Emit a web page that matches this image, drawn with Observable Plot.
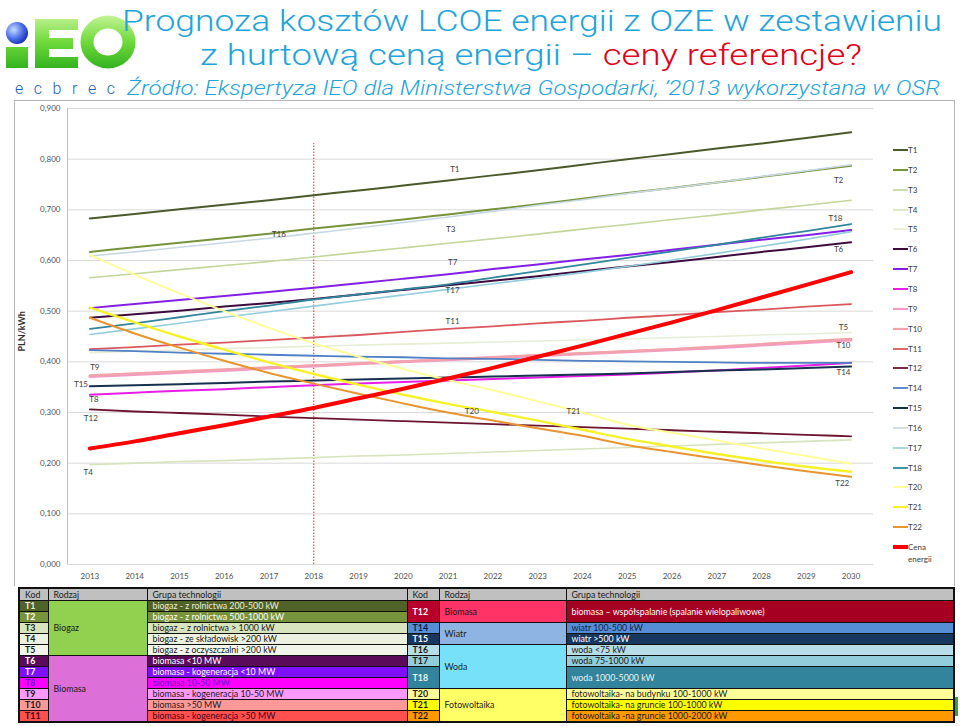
<!DOCTYPE html>
<html>
<head>
<meta charset="utf-8">
<script src="https://cdn.jsdelivr.net/npm/d3@7"></script>
<script src="https://cdn.jsdelivr.net/npm/@observablehq/plot@0.6"></script>
<style>
  html, body { margin: 0; padding: 0; background: #fff; }
  #page { position: relative; width: 960px; height: 726px; overflow: hidden; background: #fff; font-family: Lato, "Open Sans", sans-serif; }
  #header { position: absolute; left: 0; top: 0; }
  #chartbox { position: absolute; left: 14px; top: 100px; width: 941px; height: 486px; box-sizing: border-box; border: 1.5px solid #b4b4b4; border-bottom: none; }
  #plot { position: absolute; left: 14px; top: 100px; }
  #legend { position: absolute; left: 893px; top: 140px; font-size: 8px; color: #404040; }
  .li { position: absolute; left: 0; height: 12px; white-space: nowrap; }
  .li svg { position: absolute; left: 0; top: 0; }
  .li span { position: absolute; left: 15px; top: 0; line-height: 12px; }
  #tbl { position: absolute; left: 18px; top: 587px; border-collapse: collapse; table-layout: fixed; width: 935px; font-size: 8.8px; border: 2px solid #111; }
  #tbl td { border: 1px solid #111; padding: 0 0 0 5px; height: 10px; line-height: 10px; overflow: hidden; white-space: nowrap; color: #1a1a1a; }
  #tbl tr.hd td { background: #c0c0c0; height: 11px; }
  #tbl td.k { font-weight: bold; }
  #green { position: absolute; left: 955px; top: 697px; width: 3px; height: 19px; background: #3aa03a; }
  .ttl { font-family: Roboto, Lato, sans-serif; font-weight: 300; }
</style>
</head>
<body>
<div id="page">
  <svg id="header" width="960" height="100">
    <defs>
      <linearGradient id="gr" x1="0" y1="0" x2="0" y2="1" gradientUnits="userSpaceOnUse" gradientTransform="scale(1,70)">
        <stop offset="0.2" stop-color="#c8f59a"/>
        <stop offset="0.6" stop-color="#6fd93a"/>
        <stop offset="1" stop-color="#2fb01e"/>
      </linearGradient>
      <radialGradient id="bl" cx="0.35" cy="0.35" r="0.7">
        <stop offset="0" stop-color="#c8dcff"/>
        <stop offset="0.6" stop-color="#4a6de8"/>
        <stop offset="1" stop-color="#1a2fb0"/>
      </radialGradient>
    </defs>
    <circle cx="17" cy="33" r="11" fill="url(#bl)"/>
    <g fill="url(#gr)">
      <rect x="6" y="47" width="22" height="21"/>
      <rect x="35" y="19" width="14" height="49"/>
      <rect x="35" y="19" width="43" height="11"/>
      <rect x="35" y="38" width="38" height="11"/>
      <rect x="35" y="57" width="43" height="11"/>
    </g>
    <ellipse cx="108" cy="42" rx="21" ry="20" fill="none" stroke="url(#gr)" stroke-width="13"/>
    <text class="ttl" x="122" y="31" font-size="29" fill="#22a4da" textLength="820" lengthAdjust="spacingAndGlyphs">Prognoza kosztów LCOE  energii z OZE w zestawieniu</text>
    <text class="ttl" x="200" y="65" font-size="29" textLength="662" lengthAdjust="spacingAndGlyphs"><tspan fill="#22a4da">z hurtową ceną energii – </tspan><tspan fill="#e2001a">ceny referencje?</tspan></text>
    <text class="ttl" x="15" y="94" font-size="16" fill="#1d62b5" textLength="100" lengthAdjust="spacing">e c  b r e c</text>
    <text class="ttl" x="127" y="95" font-style="italic" font-size="20" fill="#22a4da" textLength="813" lengthAdjust="spacingAndGlyphs">Źródło: Ekspertyza IEO dla Ministerstwa Gospodarki, ‘2013 wykorzystana w OSR</text>
  </svg>
  <div id="chartbox"></div>
  <div id="plot"></div>
  <div id="legend"></div>
  <table id="tbl"></table>
  <div id="green"></div>
</div>
<script>
// ---------- DATA ----------
const years = [2013, 2014, 2015, 2016, 2017, 2018, 2019, 2020, 2021, 2022, 2023, 2024, 2025, 2026, 2027, 2028, 2029, 2030];
const yTicks = [0, 0.1, 0.2, 0.3, 0.4, 0.5, 0.6, 0.7, 0.8, 0.9];

const T1  = [0.683, 0.692, 0.701, 0.710, 0.719, 0.729, 0.738, 0.748, 0.758, 0.768, 0.778, 0.789, 0.800, 0.810, 0.821, 0.831, 0.842, 0.853];
const T2  = [0.617, 0.626, 0.635, 0.644, 0.653, 0.663, 0.672, 0.681, 0.691, 0.701, 0.711, 0.722, 0.733, 0.743, 0.754, 0.765, 0.776, 0.787];
const T3  = [0.566, 0.574, 0.582, 0.590, 0.598, 0.607, 0.616, 0.625, 0.634, 0.643, 0.652, 0.662, 0.671, 0.681, 0.690, 0.700, 0.709, 0.719];
const T4  = [0.197, 0.200, 0.203, 0.205, 0.208, 0.211, 0.214, 0.216, 0.219, 0.222, 0.225, 0.228, 0.231, 0.234, 0.237, 0.240, 0.243, 0.246];
const T5  = [0.418, 0.421, 0.423, 0.426, 0.428, 0.431, 0.433, 0.435, 0.437, 0.439, 0.441, 0.443, 0.445, 0.448, 0.450, 0.453, 0.455, 0.458];
const T6  = [0.487, 0.494, 0.501, 0.509, 0.516, 0.524, 0.533, 0.542, 0.551, 0.560, 0.569, 0.579, 0.588, 0.597, 0.607, 0.617, 0.626, 0.636];
const T7  = [0.506, 0.514, 0.522, 0.530, 0.538, 0.546, 0.555, 0.564, 0.573, 0.583, 0.592, 0.602, 0.611, 0.621, 0.631, 0.641, 0.650, 0.660];
const T8  = [0.335, 0.339, 0.343, 0.346, 0.350, 0.354, 0.357, 0.360, 0.363, 0.366, 0.369, 0.372, 0.375, 0.379, 0.383, 0.388, 0.393, 0.398];
const T9  = [0.371, 0.375, 0.379, 0.383, 0.388, 0.392, 0.396, 0.400, 0.404, 0.408, 0.412, 0.416, 0.420, 0.424, 0.428, 0.433, 0.438, 0.443];
const T10 = [0.373, 0.377, 0.381, 0.385, 0.389, 0.393, 0.397, 0.401, 0.405, 0.409, 0.413, 0.417, 0.421, 0.425, 0.430, 0.435, 0.440, 0.445];
const T11 = [0.425, 0.429, 0.434, 0.438, 0.443, 0.448, 0.453, 0.459, 0.465, 0.470, 0.476, 0.481, 0.487, 0.492, 0.498, 0.503, 0.509, 0.514];
const T12 = [0.306, 0.302, 0.299, 0.296, 0.292, 0.289, 0.286, 0.283, 0.280, 0.277, 0.274, 0.271, 0.268, 0.265, 0.262, 0.259, 0.256, 0.253];
const T14 = [0.423, 0.421, 0.418, 0.416, 0.414, 0.412, 0.410, 0.409, 0.407, 0.406, 0.404, 0.402, 0.401, 0.400, 0.399, 0.398, 0.398, 0.398];
const T15 = [0.352, 0.354, 0.356, 0.358, 0.361, 0.363, 0.365, 0.367, 0.369, 0.371, 0.373, 0.375, 0.377, 0.380, 0.383, 0.385, 0.388, 0.391];
const T16 = [0.609, 0.617, 0.626, 0.635, 0.644, 0.654, 0.664, 0.675, 0.686, 0.697, 0.709, 0.720, 0.732, 0.743, 0.754, 0.766, 0.777, 0.789];
const T17 = [0.454, 0.465, 0.476, 0.488, 0.499, 0.510, 0.521, 0.532, 0.543, 0.554, 0.565, 0.576, 0.588, 0.601, 0.614, 0.628, 0.642, 0.657];
const T18 = [0.465, 0.476, 0.488, 0.500, 0.511, 0.523, 0.533, 0.543, 0.553, 0.566, 0.579, 0.592, 0.605, 0.618, 0.631, 0.645, 0.658, 0.672];
const T20 = [0.611, 0.572, 0.535, 0.500, 0.467, 0.437, 0.410, 0.386, 0.364, 0.344, 0.322, 0.300, 0.276, 0.260, 0.245, 0.229, 0.214, 0.199];
const T21 = [0.507, 0.478, 0.450, 0.424, 0.399, 0.376, 0.355, 0.335, 0.317, 0.301, 0.284, 0.266, 0.248, 0.233, 0.218, 0.205, 0.193, 0.183];
const T22 = [0.487, 0.456, 0.428, 0.402, 0.378, 0.357, 0.337, 0.318, 0.300, 0.284, 0.269, 0.254, 0.236, 0.222, 0.209, 0.196, 0.184, 0.173];
const CENA = [0.229, 0.243, 0.259, 0.275, 0.292, 0.309, 0.328, 0.347, 0.367, 0.388, 0.410, 0.432, 0.455, 0.478, 0.502, 0.527, 0.552, 0.577];

const seriesNames = ["T1","T2","T3","T4","T5","T6","T7","T8","T9","T10","T11","T12","T14","T15","T16","T17","T18","T20","T21","T22","Cena energii"];
const seriesValues = [T1,T2,T3,T4,T5,T6,T7,T8,T9,T10,T11,T12,T14,T15,T16,T17,T18,T20,T21,T22,CENA];

// in-chart series labels (anchored in data coordinates)
const labelNames  = ["T1","T16","T3","T7","T17","T11","T2","T18","T6","T5","T10","T14","T9","T15","T8","T12","T4","T20","T21","T22"];
const labelYears  = [2021.15, 2017.22, 2021.06, 2021.1, 2021.1, 2021.1, 2029.72, 2029.65, 2029.72, 2029.83, 2029.83, 2029.83, 2013.11, 2012.8, 2013.09, 2013.02, 2012.96, 2021.53, 2023.8, 2029.8];
const labelValues = [0.779, 0.651, 0.661, 0.596, 0.540, 0.479, 0.759, 0.684, 0.621, 0.467, 0.432, 0.379, 0.389, 0.355, 0.325, 0.288, 0.181, 0.302, 0.302, 0.160];

// table content
const tblLeftCodes  = ["T1","T2","T3","T4","T5","T6","T7","T8","T9","T10","T11"];
const tblLeftGroups = ["biogaz - z rolnictwa 200-500 kW","biogaz - z rolnictwa 500-1000 kW","biogaz – z rolnictwa > 1000 kW","biogaz - ze składowisk >200 kW","biogaz - z oczyszczalni >200 kW","biomasa <10 MW","biomasa - kogeneracja <10 MW","biomasa 10-50 MW","biomasa - kogeneracja 10-50 MW","biomasa >50 MW","biomasa - kogeneracja  >50 MW"];
const tblLeftKinds  = ["Biogaz","Biomasa"];
const tblRightCodes  = ["T12","T14","T15","T16","T17","T18","T20","T21","T22"];
const tblRightGroups = ["biomasa – współspalanie (spalanie wielopaliwowe)","wiatr 100-500 kW","wiatr >500 kW","woda <75 kW","woda 75-1000 kW","woda 1000-5000 kW","fotowoltaika- na budynku 100-1000 kW","fotowoltaika- na gruncie 100-1000 kW","fotowoltaika -na gruncie 1000-2000 kW"];
const tblRightKinds  = ["Biomasa","Wiatr","Woda","Fotowoltaika"];
const tblHeader = ["Kod","Rodzaj","Grupa technologii"];

// ---------- STYLES ----------
const lineColors = ["#4b5a2a","#77933c","#c3d69b","#d7e4bd","#e6eed6","#3d0c3d","#8420e6","#e61ee6","#f29ac8","#f2a2aa","#d9585e","#6b1530","#4f81c4","#17304f","#c9d9e3","#93cddd","#31859c","#ffff99","#f6f22a","#e8952f","#ff0000"];
const lineWidths = [2, 2, 1.6, 1.6, 1.6, 2, 2, 2, 3, 2.4, 1.8, 1.8, 1.8, 2, 1.6, 1.6, 1.8, 2, 2.4, 2, 4];

// ---------- CHART ----------
const fmt = d => d3.format(".3f")(d).replace(".", ",");
const marks = [
  Plot.ruleY(yTicks, {stroke: "#d9d9d9", strokeWidth: 1}),
  Plot.ruleX([2012.5], {y1: 0, y2: 0.9, stroke: "#bfbfbf"}),
  Plot.text(yTicks, {x: 2012.5, y: d => d, text: fmt, textAnchor: "end", dx: -7, fill: "#505050", fontSize: 8}),
  Plot.text(years, {x: d => d, y: 0, text: d => String(d), dy: 12, fill: "#505050", fontSize: 8}),
  Plot.text(["PLN/kWh"], {frameAnchor: "left", dx: -45, dy: 15, rotate: -90, fontWeight: "bold", fontSize: 9, fill: "#303030"}),
  Plot.ruleX([2018], {y1: 0, y2: 0.831, stroke: "#ff2020", strokeWidth: 1, strokeDasharray: "1.5,1.5"})
];
seriesNames.forEach((name, i) => {
  const rows = years.map((yr, j) => ({year: yr, value: seriesValues[i][j]}));
  marks.push(Plot.line(rows, {x: "year", y: "value", stroke: lineColors[i], strokeWidth: lineWidths[i], curve: "monotone-x"}));
});
const labelRows = labelNames.map((n, i) => ({name: n, year: labelYears[i], value: labelValues[i]}));
marks.push(Plot.text(labelRows, {x: "year", y: "value", text: "name", fill: "#404040", fontSize: 8}));

const chart = Plot.plot({
  width: 941, height: 486,
  marginLeft: 53, marginRight: 82, marginTop: 8, marginBottom: 22,
  x: {domain: [2012.5, 2030.5], axis: null},
  y: {domain: [0, 0.9], axis: null},
  style: {background: "transparent", fontFamily: "Lato, 'Open Sans', sans-serif", fontSize: "8px", overflow: "visible"},
  marks
});
document.getElementById("plot").appendChild(chart);

// ---------- LEGEND ----------
const legend = document.getElementById("legend");
seriesNames.forEach((name, i) => {
  const d = document.createElement("div");
  d.className = "li";
  d.style.top = (i * 19.85 + 4) + "px";
  const w = i === seriesNames.length - 1 ? 4 : Math.min(lineWidths[i], 2.2);
  d.innerHTML = `<svg width="15" height="12"><line x1="0" x2="15" y1="6" y2="6" stroke="${lineColors[i]}" stroke-width="${w}"/></svg><span>${name === "Cena energii" ? "Cena<br>energii" : name}</span>`;
  legend.appendChild(d);
});

// ---------- TABLE ----------
const leftCodeBg   = ["#4f6228","#77933c","#d7e4bd","#ebf1de","#f2f6ea","#5a0c5a","#7f10ff","#ff00ff","#ff99ff","#ff9999","#ff5050"];
const leftCodeFg   = ["#eeeed8","#ffffff","#1a1a1a","#1a1a1a","#1a1a1a","#ffffff","#ffffff","#6a10c0","#1a1a1a","#1a1a1a","#4a0010"];
const kindLeftBg   = ["#92d050","#dc6fd8"];
const rightCodeBg  = ["#b8002c","#558ed5","#17375e","#b7dee8","#92cddc","#31849b","#ffff99","#ffff00","#ff9900"];
const rightCodeFg  = ["#ffffff","#10204a","#ffffff","#1a1a1a","#1a1a1a","#e8f4f4","#1a1a1a","#1a1a1a","#1a1a1a"];
const rightGroupBg = ["#a50021","#558ed5","#17375e","#b7dee8","#92cddc","#31849b","#ffff99","#ffff00","#ff9900"];
const kindRightBg  = ["#ff3366","#8db4e2","#77e1f9","#ffff66"];
const rightSpans   = [2,1,1,1,1,2,1,1,1];
const kindRightSpans = [2,2,4,3];

const tbl = document.getElementById("tbl");
const colW = [29, 99, 260, 32, 127, 388];
const cg = document.createElement("colgroup");
colW.forEach(w => { const c = document.createElement("col"); c.style.width = w + "px"; cg.appendChild(c); });
tbl.appendChild(cg);
const hr = document.createElement("tr"); hr.className = "hd";
[...tblHeader, ...tblHeader].forEach(t => { const td = document.createElement("td"); td.textContent = t; hr.appendChild(td); });
tbl.appendChild(hr);

const rightStart = {}; let acc = 0;
rightSpans.forEach((s, i) => { rightStart[acc] = i; acc += s; });
const kindStart = {}; acc = 0;
kindRightSpans.forEach((s, i) => { kindStart[acc] = i; acc += s; });

for (let r = 0; r < 11; r++) {
  const tr = document.createElement("tr");
  const mk = (text, bg, fg, cls, rs) => {
    const td = document.createElement("td");
    td.innerHTML = text;
    td.style.background = bg; td.style.color = fg;
    if (cls) td.className = cls;
    if (rs > 1) td.rowSpan = rs;
    tr.appendChild(td);
    return td;
  };
  mk(tblLeftCodes[r], leftCodeBg[r], leftCodeFg[r], "k", 1);
  if (r === 0) mk(tblLeftKinds[0], kindLeftBg[0], "#1a1a1a", "", 5);
  if (r === 5) mk(tblLeftKinds[1], kindLeftBg[1], "#1a1a1a", "", 6);
  mk(tblLeftGroups[r], leftCodeBg[r], leftCodeFg[r], "", 1);
  if (r in rightStart) {
    const i = rightStart[r];
    mk(tblRightCodes[i], rightCodeBg[i], rightCodeFg[i], "k", rightSpans[i]);
    if (r in kindStart) {
      const k = kindStart[r];
      mk(tblRightKinds[k], kindRightBg[k], "#1a1a1a", "", kindRightSpans[k]);
    }
    mk(tblRightGroups[i], rightGroupBg[i], rightCodeFg[i], "", rightSpans[i]);
  } else if (r in kindStart) {
    const k = kindStart[r];
    mk(tblRightKinds[k], kindRightBg[k], "#1a1a1a", "", kindRightSpans[k]);
  }
  tbl.appendChild(tr);
}
</script>
</body>
</html>
